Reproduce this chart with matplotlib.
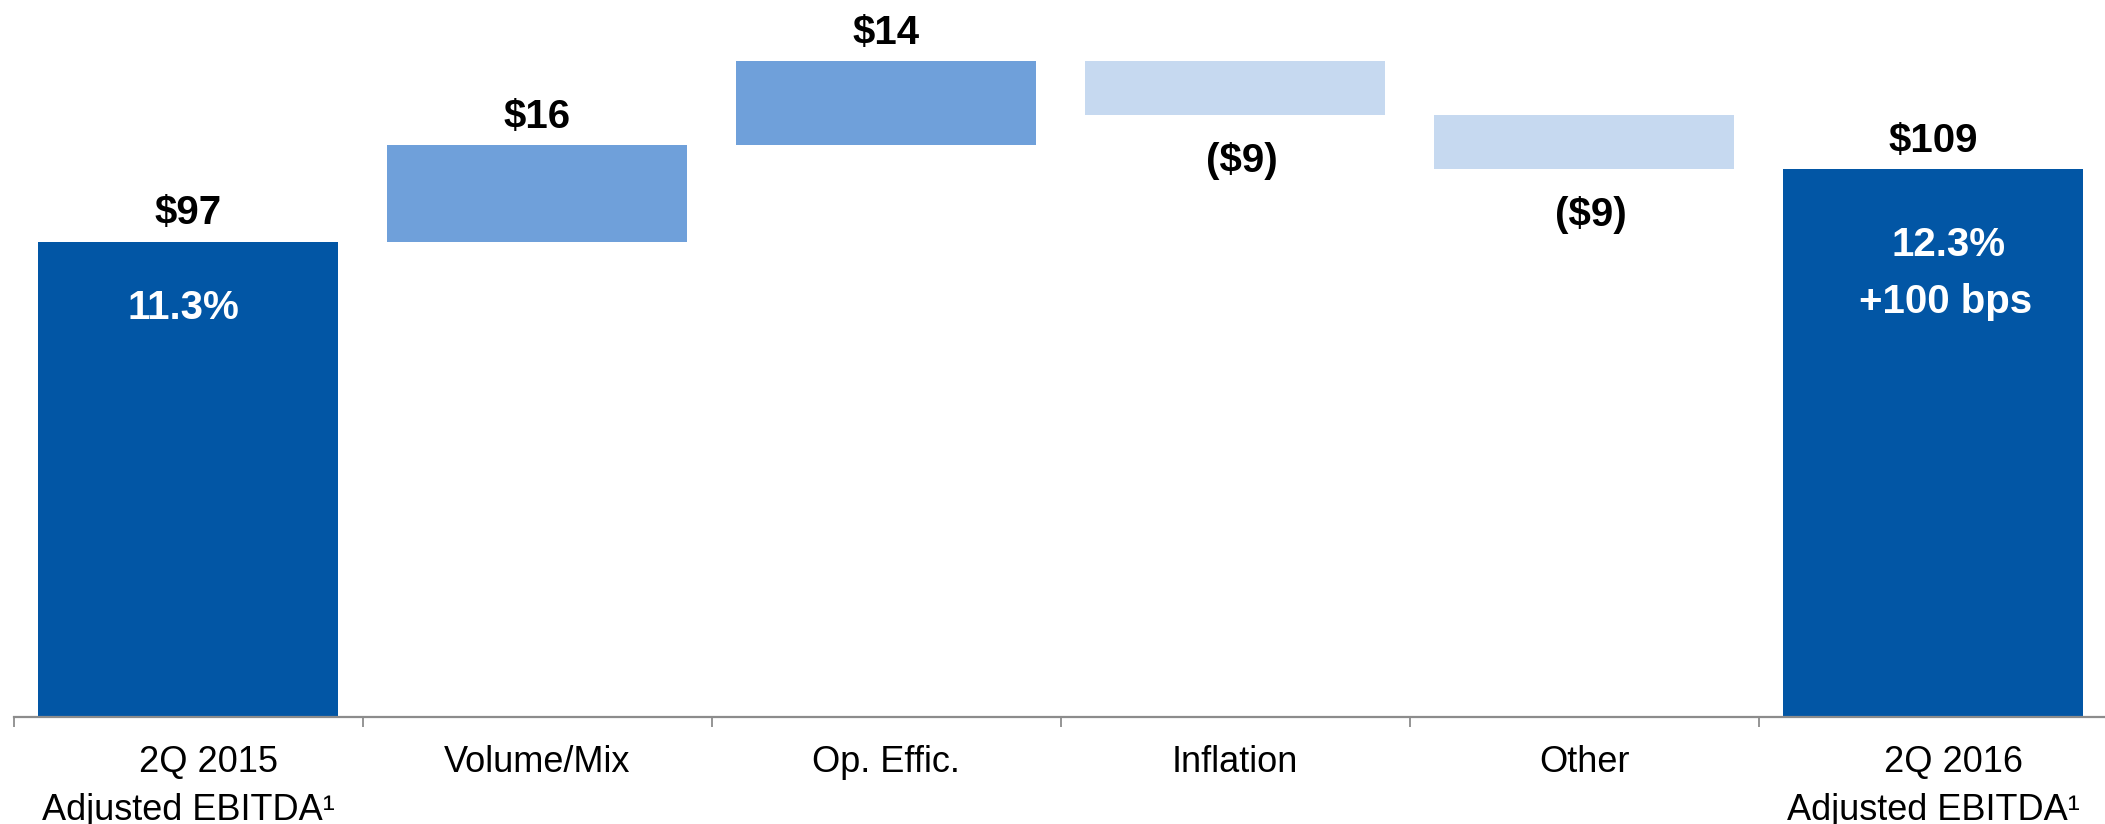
import matplotlib
matplotlib.use("Agg")
import matplotlib.pyplot as plt
from matplotlib.ticker import FixedLocator

plt.rcParams['font.family'] = ['Liberation Sans', 'DejaVu Sans']

categories = ["    2Q 2015\nAdjusted EBITDA\u00b9", "Volume/Mix", "Op. Effic.", "Inflation", "Other",
              "    2Q 2016\nAdjusted EBITDA\u00b9"]
changes = [97, 16, 14, -9, -9, 109]
kinds = ["total", "up", "up", "down", "down", "total"]
value_labels = ["$97", "$16", "$14", "($9)", "($9)", "$109"]
margin_labels = {0: ["11.3%"], 5: ["12.3%", "+100 bps"]}

colors = {"total": "#0256A5", "up": "#6FA0DA", "down": "#C6D9F0"}

W, H = 2105, 824
fig = plt.figure(figsize=(W / 100, H / 100), dpi=100)
ax_left = 13.5 / W
ax_bottom = 1 - 717 / H
ax = fig.add_axes([ax_left, ax_bottom, 2094 / W, 717 / H])

ymin, ymax = 18.2, 18.2 + 717 / 6.03
n = len(categories)

running = 0
bottoms, heights = [], []
for c, k in zip(changes, kinds):
    if k == "total":
        bottoms.append(0)
        heights.append(c)
        running = c
    else:
        if c >= 0:
            bottoms.append(running)
            heights.append(c)
        else:
            bottoms.append(running + c)
            heights.append(-c)
        running += c

x = list(range(n))
ax.bar(x, heights, bottom=bottoms, width=0.857,
       color=[colors[k] for k in kinds], linewidth=0, zorder=2)

for i in range(n):
    top = bottoms[i] + heights[i]
    if changes[i] >= 0:
        ax.annotate(value_labels[i], (i, top), xytext=(0, 12.5), textcoords="offset points",
                    ha="center", va="baseline", fontsize=29, fontweight="bold", color="black")
    else:
        ax.annotate(value_labels[i], (i, bottoms[i]), xytext=(5, -41), textcoords="offset points",
                    ha="center", va="baseline", fontsize=29, fontweight="bold", color="black")

offsets = {0: [(-3, -55.5)], 5: [(11, -62), (9, -103)]}
for i, lines in margin_labels.items():
    top = bottoms[i] + heights[i]
    for txt, (dx, dy) in zip(lines, offsets[i]):
        ax.annotate(txt, (i, top), xytext=(dx, dy), textcoords="offset points",
                    ha="center", va="baseline", fontsize=29, fontweight="bold", color="white")

ax.set_xlim(-0.5, n - 0.5)
ax.set_ylim(ymin, ymax)

for s in ["top", "right", "left"]:
    ax.spines[s].set_visible(False)
ax.spines["bottom"].set_color("#8C8C8C")
ax.spines["bottom"].set_linewidth(1.6)
ax.spines["bottom"].set_zorder(3)
ax.yaxis.set_visible(False)

ax.xaxis.set_major_locator(FixedLocator([i - 0.5 for i in range(n + 1)]))
ax.xaxis.set_minor_locator(FixedLocator(x))
ax.set_xticklabels([""] * (n + 1))
ax.set_xticklabels(categories, minor=True)
ax.tick_params(axis="x", which="major", length=7.5, width=1.3, color="#8C8C8C", direction="out")
ax.tick_params(axis="x", which="minor", length=0, pad=20.5, labelsize=26, labelcolor="black")
for lbl in ax.get_xticklabels(minor=True):
    lbl.set_linespacing(1.45)

fig.savefig("out.png", dpi=100)
